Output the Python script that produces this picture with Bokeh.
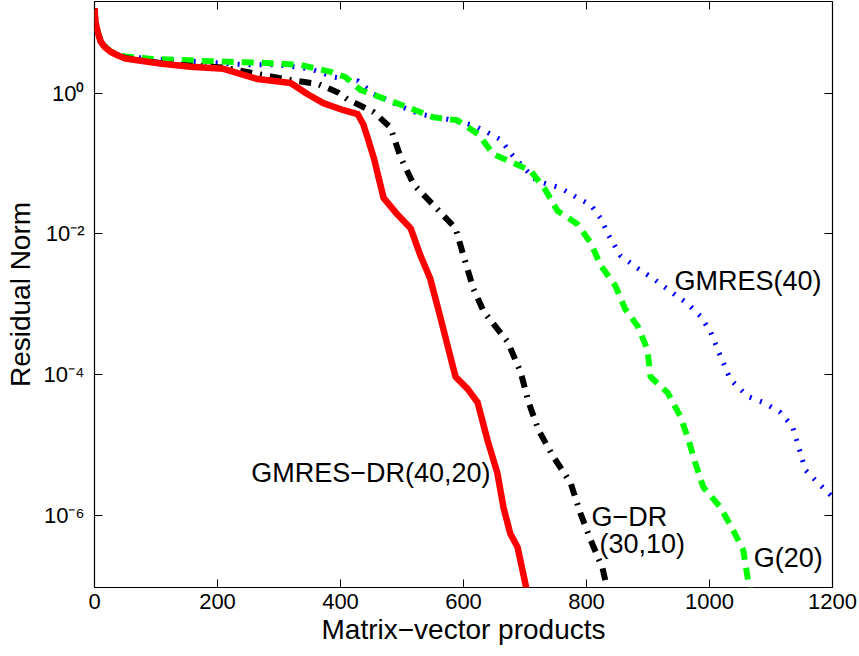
from bokeh.plotting import figure
from bokeh.models import LinearAxis, LogAxis, FixedTicker, Range1d, Label
from bokeh.embed import file_html
from bokeh.resources import INLINE

# Residual norm histories versus matrix-vector products
mv_dr4020 = [0, 1.5, 5, 10, 16, 26, 39, 50, 75, 110, 156, 210, 265, 319, 346, 372, 405, 428,
             437, 444, 454, 470, 493, 514, 530, 546, 563, 587, 607, 623, 639, 655, 665, 676,
             688, 703]
res_dr4020 = [16.0, 10.4, 7.5, 5.4, 4.56, 3.86, 3.39, 3.1, 2.87, 2.6, 2.36, 2.21, 1.58, 1.39,
              0.97, 0.72, 0.57, 0.50, 0.36, 0.234, 0.121, 0.0324, 0.0186, 0.0120, 4.9e-3,
              2.29e-3, 6.2e-4, 9.3e-5, 6.2e-5, 4.0e-5, 1.17e-5, 4.0e-6, 1.29e-6, 5.5e-7,
              3.5e-7, 8.5e-8]

mv_dr3010 = [0, 1.5, 5, 10, 16, 26, 39, 50, 75, 110, 156, 210, 265, 319, 363, 395, 411, 454,
             481, 498, 519, 551, 587, 600, 616, 633, 672, 693, 706, 722, 746, 774, 790, 807,
             826, 835]
res_dr3010 = [16.0, 10.4, 7.5, 5.4, 4.6, 3.9, 3.42, 3.15, 2.9, 2.65, 2.45, 2.3, 1.87, 1.53,
              1.35, 1.03, 0.82, 0.535, 0.326, 0.121, 0.050, 0.0257, 0.0120, 4.9e-3, 1.66e-3,
              7.8e-4, 2.9e-4, 1.07e-4, 4.0e-5, 1.62e-5, 6.8e-6, 2.9e-6, 1.07e-6, 4.4e-7,
              1.78e-7, 8.0e-8]

mv_g20 = [0, 1.5, 5, 10, 16, 26, 39, 50, 91, 172, 270, 335, 384, 408, 433, 473, 509, 551,
          590, 624, 649, 672, 709, 733, 753, 785, 807, 823, 847, 863, 883, 899, 904, 932,
          953, 966, 977, 990, 1018, 1039, 1055, 1062, 1068]
res_g20 = [16.0, 10.4, 7.6, 5.6, 4.7, 3.9, 3.5, 3.3, 3.07, 2.87, 2.69, 2.52, 2.0, 1.69, 1.10,
           0.82, 0.63, 0.453, 0.41, 0.259, 0.134, 0.110, 0.079, 0.0422, 0.0211, 0.0138,
           7.4e-3, 3.55e-3, 1.82e-3, 8.5e-4, 4.9e-4, 2.29e-4, 9.3e-5, 5.5e-5, 2.5e-5,
           1.17e-5, 5.5e-6, 2.5e-6, 1.29e-6, 6.0e-7, 3.16e-7, 1.29e-7, 7e-8]

mv_g40 = [0, 1.5, 5, 10, 16, 26, 39, 50, 91, 249, 298, 351, 389, 428, 454, 501, 530, 574,
          616, 639, 660, 680, 698, 720, 758, 785, 807, 823, 836, 855, 883, 909, 937, 964,
          985, 1002, 1015, 1034, 1062, 1088, 1115, 1135, 1145, 1156, 1176, 1200]
res_g40 = [16.0, 10.4, 7.6, 5.6, 4.7, 3.9, 3.5, 3.3, 3.07, 2.52, 2.52, 2.21, 1.69, 1.49, 0.97,
           0.63, 0.50, 0.425, 0.348, 0.276, 0.219, 0.129, 0.087, 0.056, 0.0447, 0.0324,
           0.0257, 0.0166, 9.5e-3, 4.9e-3, 3.24e-3, 2.29e-3, 1.51e-3, 1.02e-3, 6.8e-4,
           4.0e-4, 2.09e-4, 8.5e-5, 4.9e-5, 4.0e-5, 2.9e-5, 1.82e-5, 9.3e-6, 4.4e-6,
           2.9e-6, 1.82e-6]

x_ticks = [0, 200, 400, 600, 800, 1000, 1200]
y_ticks = [1e-6, 1e-4, 1e-2, 1e0]
y_tick_labels = {1e-6: "10\u207b\u2076", 1e-4: "10\u207b\u2074", 1e-2: "10\u207b\u00b2", 1e0: "10\u2070"}

FONT = "Liberation Sans"

p = figure(width=859, height=656, x_range=Range1d(0, 1200), y_range=Range1d(9.4e-8, 20),
           y_axis_type="log", output_backend="svg", toolbar_location=None,
           min_border_left=94, min_border_right=27, min_border_top=1, min_border_bottom=69)
p.grid.visible = False
p.outline_line_color = "black"
p.outline_line_width = 1.2
p.background_fill_color = "white"
p.border_fill_color = "white"

# series
p.line(mv_g40, res_g40, color="#0000ff", line_width=5, line_dash="2 9")
p.line(mv_g20, res_g20, color="#00ff00", line_width=6, line_dash="12 8")
p.line(mv_dr3010, res_dr3010, color="black", line_width=6, line_dash="12 8 2 8")
p.line(mv_dr4020, res_dr4020, color="#ff0000", line_width=6.5, line_join="round")

# axes
xa = p.xaxis[0]
xa.ticker = FixedTicker(ticks=x_ticks)
ya = p.yaxis[0]
ya.ticker = FixedTicker(ticks=y_ticks)
ya.major_label_overrides = y_tick_labels
for ax in (xa, ya):
    ax.major_tick_in = 8
    ax.major_tick_out = 0
    ax.minor_tick_in = 0
    ax.minor_tick_out = 0
    ax.axis_line_color = None
    ax.major_tick_line_color = "black"
    ax.major_label_text_font = FONT
    ax.major_label_text_font_size = "22px"
    ax.major_label_text_color = "black"
    ax.axis_label_text_font = FONT
    ax.axis_label_text_font_size = "28px"
    ax.axis_label_text_font_style = "normal"
    ax.axis_label_text_color = "black"
xa.axis_label = "Matrix\u2212vector products"
ya.axis_label = "Residual Norm"
xa.major_label_standoff = 6
ya.major_label_standoff = 10
xa.axis_label_standoff = 2
ya.axis_label_standoff = 5

# tick marks on the top and right edges of the box, without labels
top = LinearAxis(ticker=FixedTicker(ticks=x_ticks))
right = LogAxis(ticker=FixedTicker(ticks=y_ticks))
for ax in (top, right):
    ax.major_tick_in = 8
    ax.major_tick_out = 0
    ax.minor_tick_in = 0
    ax.minor_tick_out = 0
    ax.axis_line_color = None
    ax.major_label_text_font_size = "1px"
    ax.major_label_text_color = None
    ax.major_label_standoff = 0
p.add_layout(top, "above")
p.add_layout(right, "right")

# curve labels
lab = dict(text_font=FONT, text_font_size="27px", text_color="black", text_baseline="middle")
p.add_layout(Label(x=943, y=2.16e-3, text="GMRES(40)", text_align="left", **lab))
p.add_layout(Label(x=644, y=4.0e-6, text="GMRES\u2212DR(40,20)", text_align="right", **lab))
p.add_layout(Label(x=808, y=9.3e-7, text="G\u2212DR", text_align="left", **lab))
p.add_layout(Label(x=821, y=3.95e-7, text="(30,10)", text_align="left", **lab))
p.add_layout(Label(x=1072, y=2.5e-7, text="G(20)", text_align="left", **lab))

open("out.html", "w").write(file_html(p, INLINE))
